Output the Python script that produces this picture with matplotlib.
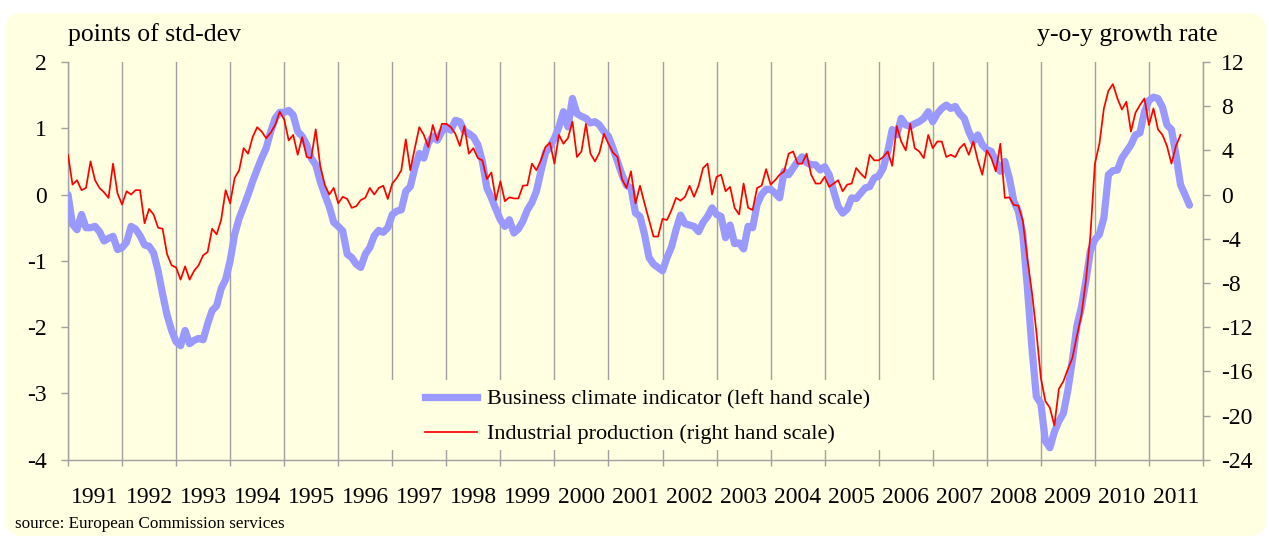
import matplotlib
matplotlib.use("Agg")
import matplotlib.pyplot as plt
from matplotlib.patches import FancyBboxPatch, Rectangle
from matplotlib.lines import Line2D
import numpy as np

# ---------------- data ----------------
start_year = 1991
bci = [
    0.0, -0.45, -0.53, -0.3, -0.5, -0.5, -0.48, -0.56, -0.7, -0.66, -0.63, -0.83,
    -0.8, -0.72, -0.48, -0.52, -0.62, -0.76, -0.78, -0.88, -1.15, -1.5, -1.82, -2.05,
    -2.22, -2.28, -2.05, -2.25, -2.2, -2.17, -2.19, -1.95, -1.75, -1.68, -1.42, -1.28,
    -1.0, -0.6, -0.36, -0.18, 0.0, 0.2, 0.38, 0.55, 0.7, 0.95, 1.15, 1.24,
    1.24, 1.27, 1.2, 0.95, 0.88, 0.75, 0.55, 0.45, 0.2, 0.0, -0.18, -0.42,
    -0.48, -0.55, -0.9, -0.95, -1.05, -1.1, -0.9, -0.8, -0.62, -0.54, -0.57, -0.5,
    -0.3, -0.25, -0.23, 0.05, 0.12, 0.4, 0.62, 0.55, 0.78, 0.88, 0.82, 0.95,
    1.02, 0.97, 1.12, 1.1, 0.96, 0.92, 0.87, 0.75, 0.5, 0.1, -0.05, -0.22,
    -0.38, -0.48, -0.38, -0.58, -0.52, -0.4, -0.23, -0.12, 0.05, 0.35, 0.63, 0.72,
    0.85, 1.02, 1.25, 1.02, 1.45, 1.22, 1.18, 1.15, 1.08, 1.1, 1.05, 0.95,
    0.88, 0.7, 0.5, 0.3, 0.14, 0.1, -0.28, -0.33, -0.6, -0.95, -1.05, -1.1,
    -1.15, -0.95, -0.79, -0.53, -0.31, -0.44, -0.46, -0.48, -0.56, -0.42, -0.33, -0.2,
    -0.3, -0.33, -0.65, -0.46, -0.74, -0.73, -0.82, -0.48, -0.5, -0.15, 0.0, 0.08,
    0.08, 0.02, -0.05, 0.35, 0.3, 0.4, 0.5, 0.57, 0.48, 0.45, 0.45, 0.37,
    0.42, 0.3, 0.05, -0.18, -0.28, -0.22, -0.05, -0.06, 0.02, 0.1, 0.12, 0.25,
    0.28, 0.4, 0.65, 0.98, 0.9, 1.15, 1.05, 1.03, 1.07, 1.1, 1.15, 1.25,
    1.1, 1.22, 1.3, 1.35, 1.3, 1.33, 1.22, 1.15, 0.95, 0.8, 0.9, 0.75,
    0.68, 0.65, 0.5, 0.35, 0.5, 0.25, -0.1, -0.25, -0.6, -1.4, -2.3, -3.05,
    -3.15, -3.72, -3.82, -3.58, -3.42, -3.3, -2.95, -2.5, -1.98, -1.7, -1.3, -0.85,
    -0.68, -0.6, -0.35, 0.3, 0.36, 0.37, 0.55, 0.65, 0.75, 0.9, 0.93, 1.25,
    1.42, 1.47, 1.45, 1.32, 1.05, 0.98, 0.6, 0.15, 0.0, -0.16,
]
ip = [
    3.6, 0.9, 1.3, 0.4, 0.6, 3.0, 1.3, 0.6, 0.2, -0.3, 2.8, 0.1,
    -0.9, 0.3, 0.0, 0.4, 0.4, -2.6, -1.3, -1.8, -3.0, -3.1, -5.4, -6.4,
    -6.6, -7.7, -6.5, -7.7, -6.9, -6.4, -5.5, -5.2, -3.1, -3.6, -2.3, 0.4,
    -0.8, 1.5, 2.2, 4.2, 3.7, 5.2, 6.1, 5.7, 5.1, 5.6, 6.3, 7.5,
    6.8, 4.9, 5.4, 3.6, 5.2, 3.4, 3.3, 5.9, 2.6, 0.9, 0.0, 0.6,
    -0.8, -0.2, -0.4, -1.2, -1.05, -0.5, -0.3, 0.6, 0.0, 0.6, 0.8, -0.4,
    1.0, 1.5, 2.2, 5.0, 2.2, 4.2, 6.1, 5.4, 4.3, 6.3, 4.9, 6.4,
    6.4, 6.1, 5.5, 4.4, 6.2, 3.7, 4.2, 3.3, 3.1, 1.4, 2.0, -0.5,
    1.2, -0.6, -0.25, -0.35, -0.35, 0.8, 0.85, 2.8, 2.2, 3.1, 4.3, 4.7,
    2.8, 5.4, 4.6, 5.1, 6.6, 3.4, 3.9, 6.4, 3.7, 3.0, 3.8, 5.5,
    4.6, 3.8, 3.4, 1.4, 0.6, 2.1, -0.8, 0.8, -0.8, -2.3, -3.8, -3.8,
    -2.2, -2.3, -1.4, -0.3, -0.55, -0.2, 0.8, -0.2, 0.8, 2.4, 2.8, 0.0,
    1.6, 1.8, 0.3, 0.7, -1.2, -1.8, 1.0, -1.2, -1.4, 0.6, 0.8, 2.3,
    0.9, 1.3, 1.8, 2.1, 3.7, 3.9, 2.8, 2.8, 3.7, 1.8, 1.0, 1.0,
    1.6, 0.7, 1.0, 1.3, 0.3, 0.9, 1.0, 2.4, 1.9, 1.5, 3.6, 3.1,
    3.1, 3.4, 3.9, 2.6, 6.2, 4.8, 4.0, 6.4, 4.2, 3.9, 3.3, 5.4,
    4.2, 4.8, 4.8, 3.4, 3.6, 3.4, 4.2, 4.6, 3.6, 4.8, 3.1, 1.8,
    4.0, 3.3, 2.1, 4.6, -0.3, -0.25, -0.95, -1.0, -2.4, -5.8, -8.8, -12.4,
    -16.6, -18.7, -19.3, -20.9, -17.6, -16.9, -15.8, -14.8, -12.8, -10.9, -7.8, -3.7,
    2.8, 4.6, 7.8, 9.4, 10.0, 8.7, 7.7, 8.4, 5.7, 7.4, 8.1, 8.7,
    6.3, 7.8, 5.9, 5.4, 4.4, 2.8, 4.4, 5.4,
]
years = list(range(1991, 2012))
year_labels = [str(y) for y in years]
left_ticks = [2, 1, 0, -1, -2, -3, -4]
right_ticks = [12, 8, 4, 0, -4, -8, -12, -16, -20, -24]
bci_label = "Business climate indicator (left hand scale)"
ip_label = "Industrial production (right hand scale)"
left_title = "points of std-dev"
right_title = "y-o-y growth rate"
source_text = "source: European Commission services"

# ---------------- style ----------------
plt.rcParams['font.family'] = ['Liberation Serif', 'DejaVu Serif']
plt.rcParams['axes.unicode_minus'] = False
BG = '#FFFFE1'
GRID = '#A0A0A0'
BLUE = '#9999FF'
RED = '#FF0000'
FS = 16
TFS = 17

W, H = 1269, 538
fig = plt.figure(figsize=(W / 100, H / 100), dpi=100, facecolor='white')

# rounded yellow background
bg = FancyBboxPatch((5 / 100, 2 / 100), (1266 - 5) / 100, (536 - 13) / 100,
                    boxstyle="round,pad=0,rounding_size=0.18",
                    transform=fig.dpi_scale_trans, facecolor=BG, edgecolor='none',
                    zorder=-10)
fig.patches.append(bg)

ax_l, ax_r, ax_t, ax_b = 68, 1203, 62, 459.7
ax = fig.add_axes([ax_l / W, 1 - ax_b / H, (ax_r - ax_l) / W, (ax_b - ax_t) / H])
ax.set_facecolor('none')
ax2 = ax.twinx()

x_bci = start_year + np.arange(len(bci)) / 12.0
x_ip = start_year + np.arange(len(ip)) / 12.0

ax.plot(x_bci, bci, color=BLUE, lw=5.2, solid_capstyle='round', solid_joinstyle='round', zorder=3)
ax2.plot(x_ip, ip, color=RED, lw=1.25, zorder=3)

ax.set_xlim(1991, 2012)
ax.set_ylim(-4, 2)
ax2.set_ylim(-24, 12)

# x axis: ticks at year boundaries, labels at mid-year
ax.set_xticks(years + [2012])
ax.set_xticklabels([])
ax.set_xticks([y + 0.5 for y in years], minor=True)
ax.set_xticklabels(year_labels, minor=True, fontsize=TFS)
ax.tick_params(axis='x', which='major', direction='out', length=4.5, width=1, color=GRID)
ax.tick_params(axis='x', which='minor', length=0, pad=20)
ax.xaxis.grid(True, which='major', color=GRID, lw=1)
ax.set_axisbelow(True)

ax.set_yticks(left_ticks)
ax.set_yticklabels([str(v) for v in left_ticks], fontsize=TFS)
ax.tick_params(axis='y', direction='out', length=5, width=1, color=GRID, pad=10)
ax2.set_yticks(right_ticks)
ax2.set_yticklabels([str(v) for v in right_ticks], fontsize=TFS)
ax2.tick_params(axis='y', direction='out', length=5, width=1, color=GRID, pad=8)

for a in (ax, ax2):
    a.spines['top'].set_visible(False)
    for s in ('left', 'right', 'bottom'):
        a.spines[s].set_color(GRID)
        a.spines[s].set_linewidth(1)
ax2.spines['bottom'].set_visible(False)
ax2.spines['left'].set_visible(False)
ax.spines['right'].set_visible(False)

# legend background box (hides gridlines)
ax.add_patch(Rectangle((0.248, 0.024), 0.535, 0.176, transform=ax.transAxes,
                       facecolor=BG, edgecolor='none', zorder=1))
handles = [Line2D([], [], color=BLUE, lw=5.2), Line2D([], [], color=RED, lw=1.25)]
leg = ax2.legend(handles, [bci_label, ip_label], loc='upper left',
                 bbox_to_anchor=(0.3145, 0.177), frameon=False, fontsize=FS,
                 handlelength=2.35, handletextpad=0.45, labelspacing=0.63,
                 borderpad=0, borderaxespad=0)

fig.text(68 / W, 1 - 41.5 / H, left_title, fontsize=18.5, ha='left', va='baseline')
fig.text(1218 / W, 1 - 41.5 / H, right_title, fontsize=18.5, ha='right', va='baseline')
fig.text(15 / W, 1 - 527.6 / H, source_text, fontsize=12.3, ha='left', va='baseline')

fig.savefig('out.png', dpi=100, facecolor='white')
